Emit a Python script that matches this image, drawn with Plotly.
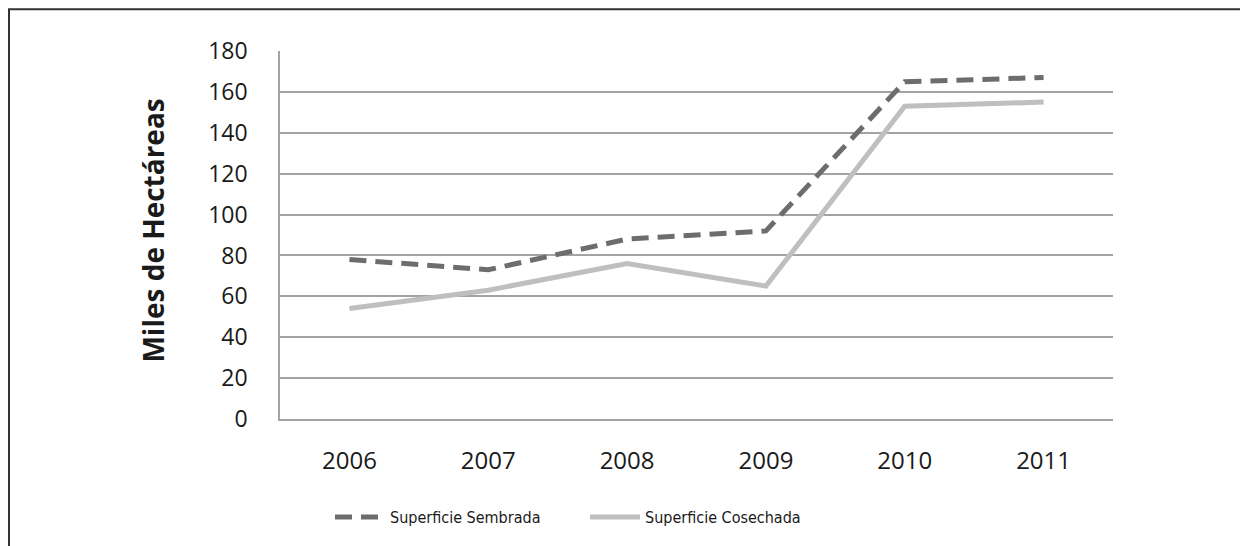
import plotly.graph_objects as go

years = ["2006", "2007", "2008", "2009", "2010", "2011"]
sembrada = [78, 73, 88, 92, 165, 167]
cosechada = [54, 63, 76, 65, 153, 155]
y_ticks = [0, 20, 40, 60, 80, 100, 120, 140, 160, 180]

OFF = 8  # default page body margin
W, H = 1248 - OFF, 546 - OFF
L, R, T, B = 280 - OFF, 135, 51 - OFF, 124
pw, ph = W - L - R, H - T - B

def px_x(x):
    return (x - OFF - L) / pw

def px_y(y):
    return (H - B - (y - OFF)) / ph

fig = go.Figure()
fig.add_trace(go.Scatter(
    x=years, y=sembrada, mode="lines", name="Superficie Sembrada",
    line=dict(color="#6d6d6d", width=5, dash="17px,9px"),
))
fig.add_trace(go.Scatter(
    x=years, y=cosechada, mode="lines", name="Superficie Cosechada",
    line=dict(color="#bfbfbf", width=5),
))

font_main = "Open Sans, Noto Sans, sans-serif"

fig.update_layout(
    width=W, height=H,
    margin=dict(l=L, r=R, t=T, b=B),
    paper_bgcolor="white", plot_bgcolor="white",
    font=dict(family=font_main, color="#1a1a1a"),
    showlegend=True,
    legend=dict(
        orientation="h", x=px_x(330), xanchor="left", y=px_y(521), yanchor="middle",
        font=dict(size=16, family="DejaVu Sans Condensed, Liberation Sans Narrow, Roboto, sans-serif",
                  color="#1a1a1a"),
        entrywidth=190, entrywidthmode="pixels", itemwidth=50,
    ),
    xaxis=dict(
        type="category", range=[-0.5, 5.5], showgrid=False,
        showline=True, linecolor="#a3a3a3", linewidth=1.5,
        ticks="", tickfont=dict(size=24, color="#1a1a1a"), ticklabelstandoff=19,
        zeroline=False,
    ),
    yaxis=dict(
        range=[0, 180], tickvals=y_ticks, showgrid=True, gridcolor="#a3a3a3", gridwidth=1.5,
        showline=True, linecolor="#a3a3a3", linewidth=1.5, ticks="",
        tickfont=dict(size=23, color="#1a1a1a"), ticklabelstandoff=26, zeroline=False,
    ),
    annotations=[dict(
        text="<b>Miles de Hectáreas</b>", textangle=-90, xref="paper", yref="paper",
        x=px_x(153), y=px_y(232), xanchor="center", yanchor="middle", showarrow=False,
        font=dict(size=28, family=font_main, color="#1a1a1a"),
    )],
    shapes=[dict(
        type="rect", xref="paper", yref="paper",
        x0=px_x(9), x1=px_x(1270), y0=px_y(580), y1=px_y(9),
        line=dict(color="#333333", width=2), fillcolor="rgba(0,0,0,0)", layer="below",
    )],
)

fig.write_html("out.html")
